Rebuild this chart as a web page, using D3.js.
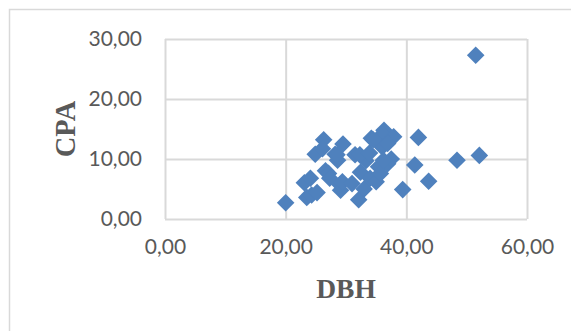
<!DOCTYPE html>
<html>
<head>
<meta charset="utf-8">
<script src="https://cdn.jsdelivr.net/npm/d3@7"></script>
<style>
  html, body { margin: 0; padding: 0; background: #fff; }
  svg { display: block; }
</style>
</head>
<body>
<svg id="chart" width="571" height="331"></svg>
<script>
// Diameter at breast height (DBH) and crown projection area (CPA) per tree
const dbh = [20.0, 23.5, 24.3, 25.2, 23.1, 24.1, 24.9, 26.3, 26.1, 26.6, 27.1, 27.3,
             28.6, 28.2, 29.1, 29.0, 29.5, 29.4, 28.5, 31.5, 31.0, 32.1, 32.4, 33.0,
             33.3, 32.3, 34.2, 33.9, 34.0, 35.0, 35.4, 35.7, 36.3, 36.1, 36.0, 36.9,
             37.5, 37.9, 36.9, 34.5, 36.2, 39.4, 41.4, 42.0, 43.7, 48.4, 52.1, 51.5];
const cpa = [2.7, 3.6, 4.0, 4.4, 6.05, 6.8, 10.8, 13.2, 11.7, 8.05, 7.6, 6.8,
             9.8, 10.8, 4.8, 5.7, 12.5, 6.2, 10.7, 10.7, 5.9, 3.2, 7.8, 5.0,
             9.7, 10.7, 13.45, 11.0, 6.8, 6.2, 8.7, 7.6, 14.8, 14.2, 12.0, 9.2,
             10.0, 13.7, 12.6, 13.2, 9.8, 4.9, 9.0, 13.6, 6.3, 9.8, 10.6, 27.3];
const xTicks = [0, 20, 40, 60];
const yTicks = [0, 10, 20, 30];
const xTitle = "DBH";
const yTitle = "CPA";

const svg = d3.select("#chart");
const W = 571, H = 331;
const plot = { left: 165, right: 527, top: 39, bottom: 219 };

const x = d3.scaleLinear().domain([0, 60]).range([plot.left, plot.right]);
const y = d3.scaleLinear().domain([0, 30]).range([plot.bottom, plot.top]);
const fmt = v => d3.format(".2f")(v).replace(".", ",");

const grid = "#d9d9d9";
const textCol = "#595959";
const markCol = "#4f81bd";

// Chart area frame
svg.append("rect")
  .attr("x", 9.5).attr("y", 9.5)
  .attr("width", W + 20).attr("height", H + 20)
  .attr("fill", "#fff").attr("stroke", grid).attr("stroke-width", 1.5);

// Gridlines and plot frame via axes
const xAxis = svg.append("g")
  .attr("transform", `translate(0,${plot.bottom})`)
  .call(d3.axisBottom(x).tickValues(xTicks).tickSize(-(plot.bottom - plot.top)).tickFormat(fmt).tickPadding(20));
const yAxis = svg.append("g")
  .attr("transform", `translate(${plot.left},0)`)
  .call(d3.axisLeft(y).tickValues(yTicks).tickSize(-(plot.right - plot.left)).tickFormat(fmt).tickPadding(23));

[xAxis, yAxis].forEach(a => {
  a.select(".domain").remove();
  a.selectAll(".tick line").attr("stroke", grid).attr("stroke-width", 2);
  a.selectAll(".tick text")
    .attr("fill", textCol)
    .attr("font-family", "Lato, 'Open Sans', sans-serif")
    .attr("font-size", 21);
});

// Diamond markers
const sym = d3.symbol().type(d3.symbolSquare).size(155);
svg.append("g").selectAll("path")
  .data(dbh.map((d, i) => [d, cpa[i]]))
  .join("path")
  .attr("d", sym)
  .attr("transform", d => `translate(${x(d[0])},${y(d[1])}) rotate(45)`)
  .attr("fill", markCol);

// Axis titles
svg.append("text")
  .attr("x", (plot.left + plot.right) / 2)
  .attr("y", 298)
  .attr("text-anchor", "middle")
  .attr("font-family", "'Liberation Serif', 'Times New Roman', serif")
  .attr("font-weight", "bold")
  .attr("font-size", 27.5)
  .attr("fill", textCol)
  .text(xTitle);

svg.append("text")
  .attr("transform", `translate(74.5,${(plot.top + plot.bottom) / 2}) rotate(-90)`)
  .attr("text-anchor", "middle")
  .attr("font-family", "'Liberation Serif', 'Times New Roman', serif")
  .attr("font-weight", "bold")
  .attr("font-size", 28.5)
  .attr("fill", textCol)
  .text(yTitle);
</script>
</body>
</html>
